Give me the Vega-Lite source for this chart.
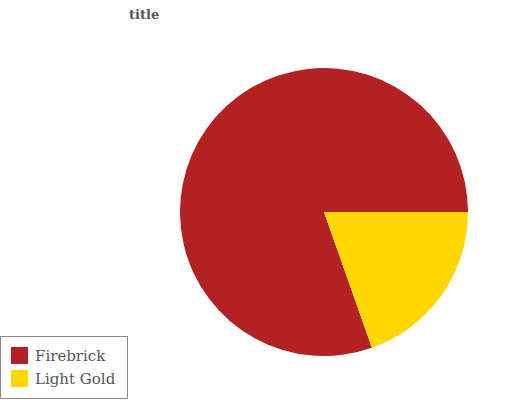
{
  "$schema": "https://vega.github.io/schema/vega-lite/v6.json",
  "width": 288,
  "height": 288,
  "autosize": {"type": "none"},
  "padding": {"left": 180, "top": 68, "right": 64, "bottom": 44},
  "background": "white",
  "title": {"text": "title", "anchor": "start", "frame": "group", "dx": -51, "dy": -42, "font": "DejaVu Serif", "fontSize": 13, "fontWeight": "bold", "color": "#555555"},
  "data": {"values": [
    {"category": "Firebrick", "value": 80.4},
    {"category": "Light Gold", "value": 19.6}
  ]},
  "mark": {"type": "arc"},
  "encoding": {
    "theta": {"field": "value", "type": "quantitative", "stack": true, "scale": {"range": [1.5708, 7.8540]}},
    "order": {"field": "category", "sort": "descending"},
    "color": {
      "field": "category", "type": "nominal",
      "scale": {"domain": ["Firebrick", "Light Gold"], "range": ["#B22222", "#FFD700"]},
      "legend": {
        "orient": "none", "legendX": -180, "legendY": 268, "title": null,
        "symbolType": "square", "symbolSize": 289, "symbolStrokeWidth": 0,
        "labelFontSize": 15, "labelFont": "DejaVu Serif", "labelColor": "#555555",
        "padding": 11, "strokeColor": "#888888", "rowPadding": 6, "labelOffset": 7
      }
    }
  },
  "config": {"view": {"stroke": null}}
}
